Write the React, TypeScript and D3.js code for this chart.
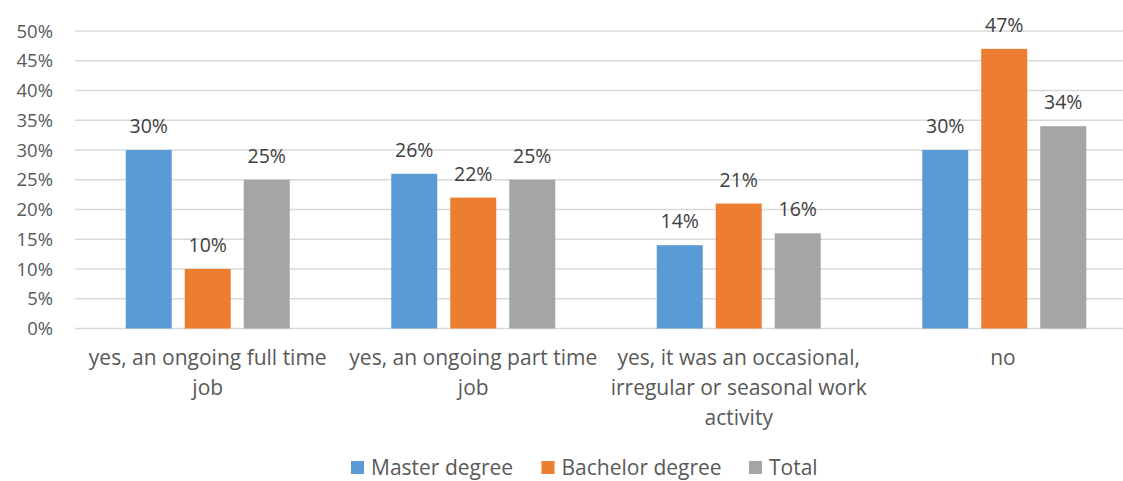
import React from "react";
import * as d3 from "d3";

const categories: string[][] = [
  ["yes, an ongoing full time", "job"],
  ["yes, an ongoing part time", "job"],
  ["yes, it was an occasional,", "irregular or seasonal work", "activity"],
  ["no"],
];
const seriesNames = ["Master degree", "Bachelor degree", "Total"];
const master = [0.30, 0.26, 0.14, 0.30];
const bachelor = [0.10, 0.22, 0.21, 0.47];
const total = [0.25, 0.25, 0.16, 0.34];
const yTicks = [0, 0.05, 0.1, 0.15, 0.2, 0.25, 0.3, 0.35, 0.4, 0.45, 0.5];
const colors = ["#5B9BD5", "#ED7D31", "#A5A5A5"];

const W = 1123;
const H = 481;
const FONT = "'Open Sans', sans-serif";

export default function App() {
  const series = [master, bachelor, total];
  const left = 75;
  const right = 1137;
  const top = 31;
  const bottom = 328.5;
  const x = d3.scaleBand<number>().domain(d3.range(categories.length)).range([left, right]);
  const y = d3.scaleLinear().domain([0, 0.5]).range([bottom, top]);
  const barW = 46;
  const gap = 13;
  const groupW = barW * 3 + gap * 2;
  const pct = d3.format(".0%");

  const legendX = [351, 541.5, 749];

  return (
    <div style={{ position: "absolute", left: 0, top: 0 }}>
      <svg width={W} height={H} style={{ display: "block", background: "#fff" }} fontFamily={FONT}>
        {yTicks.map((t) => (
          <g key={t}>
            <line x1={left} x2={right} y1={y(t)} y2={y(t)} stroke="#D9D9D9" strokeWidth={1.3} />
            <text x={53} y={y(t)} dy="0.36em" textAnchor="end" fontSize={18.5} fill="#595959">
              {pct(t)}
            </text>
          </g>
        ))}
        {categories.map((_, i) => {
          const cx = (x(i) as number) + x.bandwidth() / 2;
          const x0 = cx - groupW / 2;
          return (
            <g key={i}>
              {series.map((s, k) => {
                const bx = x0 + k * (barW + gap);
                return (
                  <g key={k}>
                    <rect x={bx} y={y(s[i])} width={barW} height={y(0) - y(s[i])} fill={colors[k]} />
                    <text x={bx + barW / 2} y={y(s[i]) - 24} dy="0.36em" textAnchor="middle" fontSize={19.5} fill="#404040">
                      {pct(s[i])}
                    </text>
                  </g>
                );
              })}
            </g>
          );
        })}
        {categories.map((lines, i) => {
          const cx = (x(i) as number) + x.bandwidth() / 2;
          return (
            <text key={i} textAnchor="middle" fontSize={21} fill="#595959">
              {lines.map((l, j) => (
                <tspan key={j} x={Math.min(cx, 1003)} y={359 + j * 29.7} dy="0.3em">
                  {l}
                </tspan>
              ))}
            </text>
          );
        })}
        {seriesNames.map((n, k) => (
          <g key={n}>
            <rect x={legendX[k]} y={461} width={13} height={13} fill={colors[k]} />
            <text x={legendX[k] + 20} y={467.5} dy="0.36em" fontSize={21} fill="#595959">
              {n}
            </text>
          </g>
        ))}
      </svg>
    </div>
  );
}
